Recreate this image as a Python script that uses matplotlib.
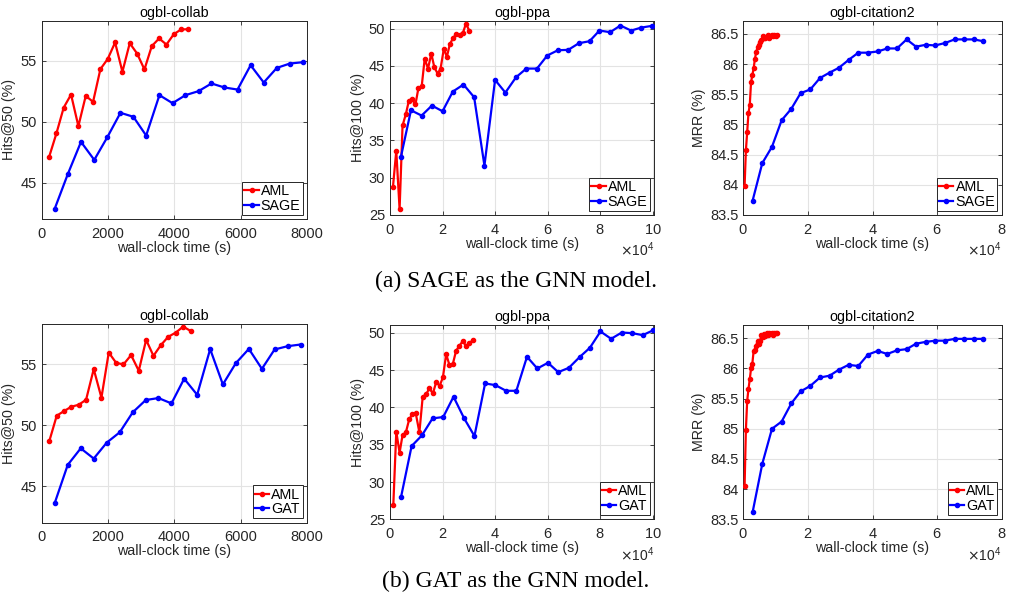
import matplotlib
matplotlib.use("Agg")
import matplotlib.pyplot as plt
from matplotlib.ticker import FormatStrFormatter, ScalarFormatter, MultipleLocator

# ---------------- data ----------------
# (a) SAGE
sage_collab_aml_t = [221, 443, 664, 885, 1106, 1328, 1549, 1770, 1992, 2213, 2434, 2655, 2877, 3098, 3319, 3540, 3762, 3983, 4204, 4426]
sage_collab_aml_y = [47.08, 49.03, 51.16, 52.23, 49.63, 52.12, 51.63, 54.32, 55.16, 56.51, 54.10, 56.45, 55.60, 54.29, 56.21, 56.84, 56.34, 57.19, 57.58, 57.60]
sage_collab_gnn_t = [392, 790, 1185, 1585, 1980, 2375, 2765, 3150, 3550, 3945, 4335, 4730, 5120, 5510, 5905, 6300, 6695, 7090, 7485, 7880]
sage_collab_gnn_y = [42.84, 45.71, 48.34, 46.86, 48.73, 50.73, 50.40, 48.86, 52.18, 51.52, 52.18, 52.51, 53.14, 52.81, 52.64, 54.64, 53.22, 54.42, 54.78, 54.89]

sage_ppa_aml_t = [1130, 2390, 3650, 4780, 6040, 7170, 8300, 9690, 10820, 12080, 13210, 14470, 15720, 16860, 18110, 19250, 20500, 21640, 22770, 24030, 25280, 26540, 27800, 28930, 30190]
sage_ppa_aml_y = [28.79, 33.6, 25.78, 37.00, 38.52, 40.31, 40.58, 39.82, 42.02, 42.29, 45.96, 44.62, 46.64, 44.84, 43.95, 44.62, 47.31, 46.19, 47.89, 48.74, 49.28, 49.19, 49.46, 50.67, 49.69]
sage_ppa_gnn_t = [4180, 7980, 12030, 15950, 20000, 23920, 27980, 32030, 35950, 40000, 43920, 47980, 51900, 55950, 59870, 63920, 67850, 71900, 75950, 79750, 83800, 87720, 91770, 95700, 99750]
sage_ppa_gnn_y = [32.83, 39.04, 38.33, 39.67, 38.91, 41.55, 42.49, 40.79, 31.62, 43.11, 41.41, 43.47, 44.63, 44.63, 46.38, 47.09, 47.14, 48.03, 48.30, 49.73, 49.51, 50.40, 49.73, 50.13, 50.36]

sage_cit_aml_t = [400, 800, 1200, 1600, 2000, 2400, 2800, 3200, 3600, 4000, 4400, 4800, 5200, 5600, 6000, 6400, 6800, 7200, 7600, 8000, 8400, 8800, 9200, 9600, 10000, 10400]
sage_cit_aml_y = [83.98, 84.57, 84.87, 85.19, 85.32, 85.70, 85.82, 85.93, 86.09, 86.20, 86.28, 86.32, 86.36, 86.40, 86.46, 86.44, 86.43, 86.45, 86.48, 86.44, 86.47, 86.49, 86.46, 86.48, 86.47, 86.49]
sage_cit_gnn_t = [2890, 5880, 8880, 11870, 14860, 17750, 20740, 23740, 26730, 29620, 32610, 35600, 38600, 41590, 44580, 47570, 50570, 53460, 56450, 59440, 62440, 65430, 68420, 71310, 74300]
sage_cit_gnn_y = [83.74, 84.36, 84.63, 85.07, 85.26, 85.52, 85.58, 85.77, 85.86, 85.94, 86.07, 86.19, 86.19, 86.21, 86.26, 86.26, 86.41, 86.29, 86.32, 86.31, 86.35, 86.41, 86.41, 86.41, 86.38]

# (b) GAT
gat_collab_aml_t = [231, 453, 674, 895, 1117, 1338, 1569, 1801, 2022, 2243, 2465, 2696, 2927, 3149, 3370, 3591, 3813, 4044, 4265, 4487]
gat_collab_aml_y = [48.72, 50.79, 51.17, 51.53, 51.69, 52.10, 54.62, 52.27, 55.98, 55.14, 55.00, 55.77, 54.48, 57.02, 55.71, 56.58, 57.27, 57.62, 58.11, 57.76]
gat_collab_gnn_t = [392, 785, 1177, 1569, 1962, 2354, 2746, 3139, 3521, 3913, 4296, 4688, 5080, 5463, 5855, 6247, 6640, 7022, 7414, 7807]
gat_collab_gnn_y = [43.61, 46.75, 48.11, 47.27, 48.58, 49.43, 51.07, 52.08, 52.24, 51.80, 53.83, 52.51, 56.26, 53.36, 55.11, 56.28, 54.64, 56.23, 56.50, 56.64]

gat_ppa_aml_t = [1260, 2390, 3650, 4780, 6040, 7300, 8550, 9810, 11190, 12450, 13710, 14970, 16350, 17610, 18870, 20130, 21380, 22640, 23900, 25160, 26420, 27670, 28930, 30190, 31450]
gat_ppa_aml_y = [26.92, 36.74, 33.93, 36.29, 36.65, 38.39, 39.11, 39.20, 36.65, 41.43, 41.74, 42.54, 41.88, 43.44, 42.86, 44.02, 47.14, 45.67, 45.80, 47.59, 48.26, 48.88, 48.26, 48.57, 49.02]
gat_ppa_gnn_t = [4180, 8230, 12150, 16200, 20250, 24180, 28230, 32150, 36200, 40130, 44180, 48100, 52150, 56080, 60130, 64050, 68100, 72150, 76080, 80130, 84180, 88230, 92150, 96200, 100300]
gat_ppa_gnn_y = [27.95, 34.82, 36.25, 38.53, 38.71, 41.43, 38.53, 36.16, 43.21, 42.99, 42.23, 42.23, 46.79, 45.22, 45.98, 44.73, 45.31, 46.74, 47.99, 50.18, 49.20, 50.04, 49.96, 49.69, 50.36]

gat_cit_aml_t = [400, 800, 1200, 1600, 2000, 2400, 2800, 3200, 3600, 4000, 4400, 4800, 5200, 5600, 6000, 6400, 6800, 7200, 7600, 8000, 8400, 8800, 9200, 9600, 10000, 10400]
gat_cit_aml_y = [84.05, 84.98, 85.46, 85.66, 85.82, 86.00, 86.08, 86.29, 86.30, 86.38, 86.46, 86.40, 86.46, 86.55, 86.52, 86.57, 86.53, 86.58, 86.55, 86.58, 86.57, 86.59, 86.56, 86.58, 86.59, 86.58]
gat_cit_gnn_t = [2890, 5880, 8880, 11870, 14860, 17750, 20740, 23740, 26730, 29620, 32610, 35600, 38600, 41590, 44580, 47570, 50570, 53460, 56450, 59440, 62440, 65430, 68420, 71310, 74300]
gat_cit_gnn_y = [83.62, 84.42, 85.00, 85.12, 85.42, 85.62, 85.71, 85.85, 85.88, 85.98, 86.06, 86.04, 86.23, 86.29, 86.24, 86.30, 86.32, 86.41, 86.44, 86.46, 86.46, 86.49, 86.49, 86.49, 86.49]

titles = ["ogbl-collab", "ogbl-ppa", "ogbl-citation2"]
ylabels = ["Hits@50 (%)", "Hits@100 (%)", "MRR (%)"]
xlabel = "wall-clock time (s)"
methods = ["AML", "SAGE", "GAT"]
captions = ["(a) SAGE as the GNN model.", "(b) GAT as the GNN model."]

# ---------------- style ----------------
W, H = 1013, 607
plt.rcParams['font.family'] = ['Liberation Sans', 'DejaVu Sans']
plt.rcParams['font.size'] = 10.3
TXT = '#262626'

fig = plt.figure(figsize=(W / 100, H / 100), dpi=100)

def px_axes(l, t, r, b):
    return fig.add_axes([l / W, 1 - b / H, (r - l) / W, (b - t) / H])

boxes = [
    [(41.7, 20.7, 307, 219), (390, 20.7, 654, 215), (743.3, 20.7, 1001.7, 215)],
    [(41.7, 324.3, 307, 522.7), (390, 325, 654, 519.3), (743.3, 325, 1001.7, 519.3)],
]

rows = [
    [(sage_collab_aml_t, sage_collab_aml_y, sage_collab_gnn_t, sage_collab_gnn_y),
     (sage_ppa_aml_t, sage_ppa_aml_y, sage_ppa_gnn_t, sage_ppa_gnn_y),
     (sage_cit_aml_t, sage_cit_aml_y, sage_cit_gnn_t, sage_cit_gnn_y)],
    [(gat_collab_aml_t, gat_collab_aml_y, gat_collab_gnn_t, gat_collab_gnn_y),
     (gat_ppa_aml_t, gat_ppa_aml_y, gat_ppa_gnn_t, gat_ppa_gnn_y),
     (gat_cit_aml_t, gat_cit_aml_y, gat_cit_gnn_t, gat_cit_gnn_y)],
]
gnn_names = [methods[1], methods[2]]

xlims = [(0, 8000), (0, 100500), (0, 80000)]
ylims = [(42, 58.3), (25, 51.05), (83.5, 86.72)]
yticks = [[45, 50, 55], [25, 30, 35, 40, 45, 50], [83.5, 84, 84.5, 85, 85.5, 86, 86.5]]
xmajor = [2000, 20000, 20000]

for r in range(2):
    for c in range(3):
        ax = px_axes(*boxes[r][c])
        at, ay, gt, gy = rows[r][c]
        ax.plot(at, ay, color='#ff0000', lw=1.6, marker='.', ms=6, label=methods[0], zorder=3)
        ax.plot(gt, gy, color='#0000ff', lw=1.6, marker='.', ms=6, label=gnn_names[r], zorder=3)
        ax.set_xlim(*xlims[c])
        ax.set_ylim(*ylims[c])
        ax.set_yticks(yticks[c])
        ax.xaxis.set_major_locator(MultipleLocator(xmajor[c]))
        ax.yaxis.set_major_formatter(FormatStrFormatter('%g'))
        if c > 0:
            fmt = ScalarFormatter(useMathText=True)
            fmt.set_powerlimits((4, 4))
            ax.xaxis.set_major_formatter(fmt)
        ax.grid(True, color='#e3e3e3', lw=0.8)
        ax.set_axisbelow(True)
        ax.tick_params(direction='in', top=True, right=True, length=3, width=0.6,
                       colors=TXT, labelsize=10.5)
        ax.tick_params(axis='x', pad=5.5)
        ax.tick_params(axis='y', pad=3.5)
        for s in ax.spines.values():
            s.set_color(TXT)
            s.set_linewidth(0.7)
        ax.set_title(titles[c], fontsize=10.3, color='black', pad=3)
        ax.set_xlabel(xlabel, fontsize=10.3, color=TXT, labelpad=0)
        ax.set_ylabel(ylabels[c], fontsize=10.3, color=TXT, labelpad=3)
        ax.xaxis.get_offset_text().set_fontsize(10)
        ax.xaxis.get_offset_text().set_color(TXT)
        leg = ax.legend(loc='lower right', fontsize=10.3, handlelength=1.0,
                        handletextpad=0.15, borderpad=0.15, labelspacing=0.05,
                        borderaxespad=0.3, fancybox=False, framealpha=1,
                        edgecolor=TXT)
        leg.get_frame().set_linewidth(0.7)

fig.text(516 / W, 1 - 281 / H, captions[0], ha='center', va='center',
         fontsize=17, family='Liberation Serif', color='black')
fig.text(516 / W, 1 - 581 / H, captions[1], ha='center', va='center',
         fontsize=17, family='Liberation Serif', color='black')

fig.savefig('out.png', dpi=100)
